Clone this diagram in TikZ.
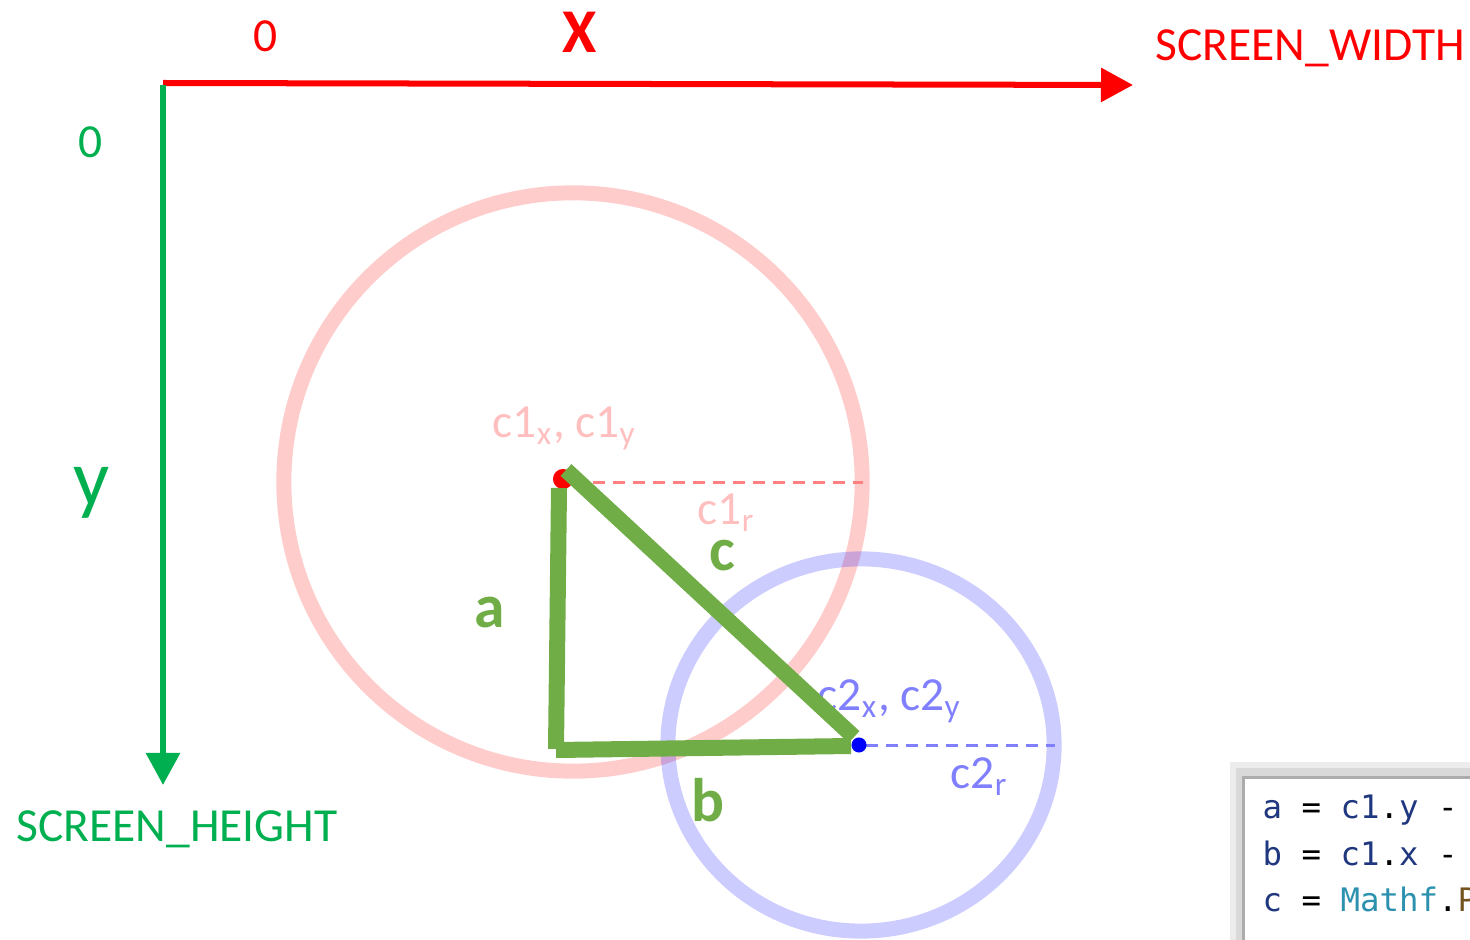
\documentclass[tikz,border=0pt]{standalone}
\usepackage{fontspec}
\setmainfont{Carlito}
\setmonofont{DejaVu Sans Mono}
\usepackage{xcolor}
\usetikzlibrary{arrows.meta, positioning, calc}
\definecolor{rojoeje}{RGB}{255, 0, 0}
\definecolor{verdeeje}{RGB}{0, 176, 80}
\definecolor{verdetri}{RGB}{112, 173, 71}
\definecolor{azulcod}{RGB}{31, 55, 127}
\definecolor{tealcod}{RGB}{43, 145, 175}
\definecolor{marroncod}{RGB}{116, 83, 31}

\begin{document}
\begin{tikzpicture}[x=0.01cm, y=-0.01cm,
    eje/.style={line width=0.06cm, -{Triangle[length=0.32cm, width=0.33cm]}},
    lado/.style={line width=0.16cm, verdetri},
    circulo/.style={line width=0.15cm, draw opacity=0.2},
    radio/.style={line width=0.03cm, dash pattern=on 0.12cm off 0.08cm},
    centro/.style={line width=0.03cm, fill=white},
    etq/.style={inner sep=0pt, font=\fontsize{13.5}{16}\selectfont},
    etqgrande/.style={inner sep=0pt, font=\fontsize{17.5}{20}\selectfont\bfseries, text=verdetri},
    codigo/.style={inner sep=0pt, anchor=base west, font=\ttfamily\fontsize{9.2}{11}\selectfont}
]
\useasboundingbox (0,0) rectangle (1470,940);

% ejes de pantalla
\coordinate (origenx) at (163,83);
\coordinate (finx) at (1133,85);
\coordinate (origeny) at (163,85);
\coordinate (finy) at (163,785);
\draw[eje, rojoeje] (origenx) -- (finx);
\draw[eje, verdeeje] (origeny) -- (finy);

\node[etq, text=rojoeje] (ceroX) at (266,36) {0};
\node[etq, text=rojoeje, font=\fontsize{17.7}{20}\selectfont\bfseries] (ejeX) at (580,32) {X};
\node[etq, text=rojoeje, anchor=base west] (ancho) at (1155,61) {SCREEN\_WIDTH};
\node[etq, text=verdeeje] (ceroY) at (91,142) {0};
\node[etq, text=verdeeje, anchor=base, font=\fontsize{22.7}{26}\selectfont] (ejeY) at (92,505) {y};
\node[etq, text=verdeeje, anchor=base west] (alto) at (16,841) {SCREEN\_HEIGHT};

% circulos
\coordinate (c1) at (563,479);
\coordinate (c2) at (859,745);
\draw[circulo, rojoeje] (573,482) circle[radius=2.89cm];
\draw[circulo, blue] (861,745) ellipse[x radius=1.93cm, y radius=1.86cm];

\coordinate (borde1) at (863,482);
\coordinate (borde2) at (1055,745);
\draw[radio, rojoeje!50] (573,482) -- (borde1);
\draw[radio, blue!50] (866,745) -- (borde2);

\node[etq, text=rojoeje!25, anchor=base west] (etqc1) at (492,437) {c1\textsubscript{x}, c1\textsubscript{y}};
\node[etq, text=rojoeje!25, anchor=base west] (radioc1) at (697,524) {c1\textsubscript{r}};
\node[etq, text=blue!50, anchor=base west] (etqc2) at (817,710) {c2\textsubscript{x}, c2\textsubscript{y}};
\node[etq, text=blue!50, anchor=base west] (radioc2) at (950,788) {c2\textsubscript{r}};

\draw[centro, rojoeje, line width=0.04cm] (c1) circle[radius=0.08cm];
\draw[centro, blue] (c2) circle[radius=0.06cm];

% triangulo
\coordinate (aArriba) at (559,488);
\coordinate (aAbajo) at (556,749);
\coordinate (bIzq) at (556,750);
\coordinate (bDer) at (851,746);
\coordinate (cArriba) at (566,470);
\coordinate (cAbajo) at (854,737);
\draw[lado] (aArriba) -- (aAbajo);
\draw[lado] (bIzq) -- (bDer);
\draw[lado] (cArriba) -- (cAbajo);

\node[etqgrande] (ladoa) at (490,613) {a};
\node[etqgrande] (ladob) at (708,800) {b};
\node[etqgrande] (ladoc) at (722,556) {c};

% recuadro de codigo
\fill[gray!15] (1230,762) rectangle (1480,950);
\fill[gray!30] (1236,768) rectangle (1480,950);
\filldraw[draw=gray!65, fill=white, line width=0.03cm] (1243,777) rectangle (1480,950);
\node[codigo] (linea1) at (1262,818) {\textcolor{azulcod}{a} = \textcolor{azulcod}{c1}.\textcolor{azulcod}{y} -};
\node[codigo] (linea2) at (1262,865) {\textcolor{azulcod}{b} = \textcolor{azulcod}{c1}.\textcolor{azulcod}{x} -};
\node[codigo] (linea3) at (1262,911) {\textcolor{azulcod}{c} = \textcolor{tealcod}{Mathf}.\textcolor{marroncod}{P}};
\end{tikzpicture}
\end{document}
